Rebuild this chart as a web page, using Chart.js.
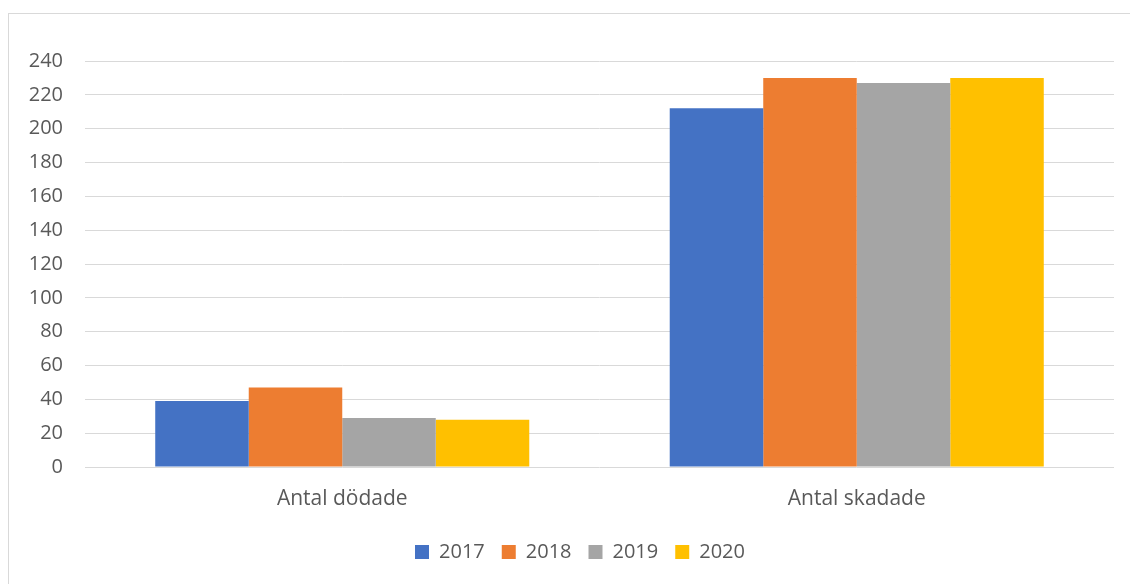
<!DOCTYPE html>
<html>
<head>
<meta charset="utf-8">
<script src="https://cdn.jsdelivr.net/npm/chart.js@4/dist/chart.umd.min.js"></script>
<style>
  html, body { margin: 0; padding: 0; background: #fff; }
  #wrap { position: relative; width: 1130px; height: 584px; overflow: hidden; }
  #frame { position: absolute; left: 8px; top: 13px; width: 1200px; height: 700px; border: 1px solid #d9d9d9; }
  canvas { position: absolute; left: 0; top: 0; }
</style>
</head>
<body>
<div id="wrap">
  <div id="frame"></div>
  <canvas id="chart" width="1130" height="584"></canvas>
</div>
<script>
    // Kategorier och värden per år
    const categories = ['Antal dödade', 'Antal skadade'];
    const years = ['2017', '2018', '2019', '2020'];
    const values2017 = [39, 212];
    const values2018 = [47, 230];
    const values2019 = [29, 227];
    const values2020 = [28, 230];
    const colors = ['#4472C4', '#ED7D31', '#A5A5A5', '#FFC000'];

    const seriesValues = [values2017, values2018, values2019, values2020];
    const font = { family: 'Open Sans, Liberation Sans, sans-serif', size: 20 };

    // Flyttar förklaringen lite åt höger efter layouten
    const legendShift = {
        id: 'legendShift',
        afterLayout(chart) {
            if (chart.legend) {
                chart.legend.left += 23;
                chart.legend.right += 23;
            }
        }
    };

    const ctx = document.getElementById('chart').getContext('2d');
    new Chart(ctx, {
        type: 'bar',
        data: {
            labels: categories,
            datasets: years.map((y, i) => ({
                label: y,
                data: seriesValues[i],
                backgroundColor: colors[i],
                borderWidth: 0
            }))
        },
        options: {
            responsive: false,
            animation: false,
            layout: { padding: { left: 0, right: 16, top: 61, bottom: 12 } },
            datasets: { bar: { categoryPercentage: 0.727, barPercentage: 1 } },
            plugins: {
                tooltip: { enabled: false },
                legend: {
                    position: 'bottom',
                    labels: {
                        color: '#595959',
                        font: font,
                        boxWidth: 14,
                        boxHeight: 14,
                        padding: 17
                    }
                }
            },
            scales: {
                x: {
                    grid: { display: false },
                    border: { display: false },
                    ticks: { color: '#595959', font: { family: font.family, size: 21 }, padding: 11 },
                    afterFit: scale => { scale.height = 58; }
                },
                y: {
                    min: 0,
                    max: 240,
                    ticks: { stepSize: 20, color: '#595959', font: font, padding: 22 },
                    grid: { color: '#d9d9d9', lineWidth: 1, drawTicks: false },
                    border: { display: false },
                    afterFit: scale => { scale.width = 85; }
                }
            }
        },
        plugins: [legendShift]
    });
</script>
</body>
</html>
